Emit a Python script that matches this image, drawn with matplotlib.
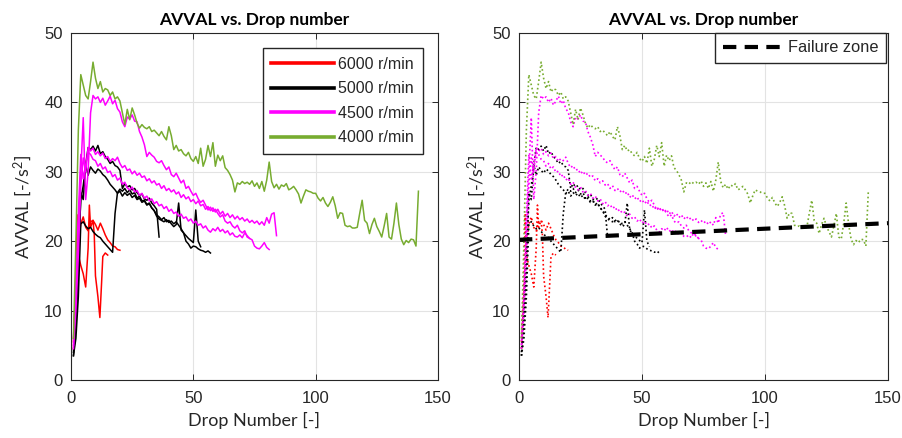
import matplotlib
matplotlib.use("Agg")
import matplotlib.pyplot as plt
from matplotlib.lines import Line2D

# ---------------- data ----------------
# 6000 r/min (red) – two runs
red1_x = [1, 2, 2.5, 3, 4, 5, 6, 7, 7.5, 8, 9, 9.5, 10, 11, 11.8, 12.5, 13, 14, 15]
red1_y = [5.5, 14, 23.8, 18, 16.5, 15.3, 13.4, 19, 25.2, 22, 23, 21, 15, 12, 9, 14, 17.8, 18.3, 18]
red2_x = [1, 2, 3, 4, 5, 6, 7, 8, 9, 10, 11, 12, 13, 14, 15, 16, 17, 18, 19, 20]
red2_y = [4.5, 12, 20, 22.5, 23.5, 22, 21.5, 22.8, 23, 22.4, 21.6, 22.6, 21.8, 20.9, 20.2,
          19.8, 19.3, 19.2, 18.8, 18.7]

# 5000 r/min (black) – three runs
blk1_x = list(range(1, 37))
blk1_y = [3.5, 8, 15, 27, 26, 31, 33.5, 33.2, 33.7, 33, 33.8, 32.6, 32.9, 32.2, 31.8, 31.2,
          31.5, 30.9, 30.7, 30.2, 27.6, 28.3, 27.8, 28, 27.4, 27.6, 27, 26.6, 26.8, 26.1,
          25.9, 26.2, 25.5, 25.1, 24.6, 20.6]
blk2_x = list(range(1, 54))
blk2_y = [4, 10, 18, 26, 28, 31, 29.5, 30.7, 30.2, 29.8, 30.4, 30.1, 29.6, 29.3, 28.8, 28.2,
          27.8, 27.4, 26.9, 27.2, 26.5, 27, 26.6, 26.9, 26.3, 26.6, 26, 26.2, 25.6, 25.8,
          25.2, 25.4, 24.8, 24.4, 23.8, 23.5, 23.1, 23.4, 22.8, 23, 22.5, 22.1, 22.4, 25.5,
          21.6, 21.2, 20.8, 20.4, 20.1, 19.8, 24.5, 20, 19.2]
blk3_x = list(range(1, 58))
blk3_y = [3.5, 6, 12, 22.5, 22.8, 22.2, 21.8, 22, 21.4, 21, 20.7, 20.5, 20, 19.6, 19.2, 18.8,
          18.4, 24, 27, 27.5, 27.2, 27.6, 27, 27.4, 26.8, 27, 26.2, 26.5, 25.8, 25.9, 25.3,
          25.5, 24.8, 24.4, 23.6, 23.2, 23, 22.8, 23.1, 22.7, 22.9, 22.5, 22.8, 22.3, 21.8,
          21.2, 20, 19.6, 19, 19.3, 19.2, 18.9, 18.7, 18.6, 18.4, 18.6, 18.3]

# 4500 r/min (magenta) – three runs
mag1_x = list(range(1, 82))
mag1_y = [5, 12, 22, 30, 37.8, 26, 30, 38.5, 41, 40.5, 40.8, 40, 40.6, 39.6, 40.2, 40.9,
          39.8, 40.3, 39.1, 38.6, 37.2, 36.5, 37.9, 37.6, 38.2, 37.3, 37.2, 35.8, 35, 33.9,
          32.2, 32.8, 32.4, 32.1, 31.5, 31.3, 31.6, 30.9, 30.3, 30.7, 29.6, 29.3, 29.8, 29.1,
          28.4, 28.8, 27.6, 27.9, 27.2, 26.6, 26.9, 26.1, 25.6, 25.9, 25.2, 24.5, 24.9, 24.3,
          24.6, 24, 23.5, 23.8, 22.9, 22.6, 22.8, 22.2, 21.9, 22.3, 21.5, 21.2, 21.5, 20.6,
          20.4, 20.2, 19.3, 19, 18.9, 19.3, 19.8, 19.1, 18.8]
mag2_x = list(range(1, 85))
mag2_y = [4.5, 10, 18, 28, 32, 30, 33.5, 33, 33.4, 32.5, 32.9, 32.3, 32.7, 31.9, 32.2, 31.5,
          31.9, 31.6, 32.1, 31.2, 30.6, 30.9, 30.2, 30.4, 29.7, 30.1, 29.5, 29.8, 29.2, 29.4,
          28.7, 29, 28.4, 28.7, 28.1, 28.3, 27.6, 28, 27.3, 27.6, 27.1, 27.4, 26.8, 27.1,
          26.3, 26.7, 26.1, 26.4, 25.7, 26, 25.4, 25.8, 25.1, 25.3, 24.6, 25, 24.4, 24.8,
          24.2, 24.6, 23.9, 24.3, 23.6, 24, 23.4, 23.8, 23.2, 23.6, 23.1, 23.4, 22.9, 23.2,
          22.7, 23, 22.6, 22.9, 22.4, 22.8, 22.3, 23.4, 22.6, 23.9, 24.1, 20.8]
mag3_x = list(range(1, 74))
mag3_y = [6, 14, 24, 32.5, 29, 31, 32.8, 32.5, 31.8, 31.6, 30.8, 31.2, 30.4, 30.7, 29.9, 30.1,
          29.3, 29.6, 28.8, 29.1, 28.2, 28.5, 27.7, 27.4, 27.8, 27.1, 27.3, 26.6, 26.9, 26.2,
          26.5, 25.8, 26.1, 25.4, 25.7, 25.1, 25.3, 24.7, 25, 24.3, 24.6, 24, 24.2, 23.6,
          23.9, 23.3, 23.5, 22.9, 23.2, 22.6, 22.9, 22.3, 22.5, 21.9, 22.2, 21.6, 21.3, 21.8,
          21.5, 22, 21.4, 21.7, 21.2, 21.5, 20.9, 21.2, 20.7, 20.6, 20.9, 20.5, 21.2, 20.8, 20.4]

# 4000 r/min (green) – one run
grn_x = list(range(1, 143))
grn_y = [6, 20, 36, 44, 42.5, 41, 40.5, 43, 45.8, 43.5, 42, 43, 41.5, 42, 41.8, 41, 41.5,
         40.5, 40.8, 40.2, 38.5, 36.8, 39, 37.5, 39.2, 38.2, 37, 36.3, 36.8, 36.4, 36.2,
         36.5, 35.8, 36, 35.6, 35.2, 35.8, 35.1, 34.6, 36.5, 35.2, 33.2, 33.8, 33, 33.2,
         32.6, 32.3, 32.8, 31.9, 31.5, 32.2, 31.2, 33.4, 30.8, 31.8, 33.8, 32.2, 34.2, 30.8,
         32.4, 31.6, 32.3, 30.6, 30.2, 29.6, 28.8, 27.1, 28.4, 28.2, 28.6, 28.3, 28.5, 28.2,
         28.7, 27.9, 28.4, 27.6, 28.6, 27.2, 28.8, 31.4, 28.6, 27.7, 28.2, 27.5, 28.1, 27.9,
         28.3, 27.4, 27.6, 27.9, 27.4, 26.8, 25.5, 26.5, 27.4, 27.2, 27.1, 26.9, 26.9, 26.2,
         25.8, 26.3,
         25.5, 25, 25.6, 26.4, 25.1, 23.3, 24.1, 24, 22.3, 22.1, 22.2, 21.9, 21.9, 22, 24,
         25.9, 23, 22.6, 21.1, 22.4, 23.3, 22.1, 21.4, 20.6, 22.2, 24, 20.6, 20.3, 22.6, 25.5,
         22.4, 20.3, 19.5, 20.1, 19.8, 20.3, 20.2, 19.3, 27.2]

failure_x = [0, 150]
failure_y = [20.2, 22.6]

series = [
    (red1_x, red1_y, "red"), (red2_x, red2_y, "red"),
    (blk1_x, blk1_y, "black"), (blk2_x, blk2_y, "black"), (blk3_x, blk3_y, "black"),
    (mag1_x, mag1_y, "magenta"), (mag2_x, mag2_y, "magenta"), (mag3_x, mag3_y, "magenta"),
    (grn_x, grn_y, "#77AC30"),
]
legend_labels = ["6000 r/min", "5000 r/min", "4500 r/min", "4000 r/min"]
legend_colors = ["red", "black", "magenta", "#77AC30"]

xticks = [0, 50, 100, 150]
yticks = [0, 10, 20, 30, 40, 50]

# ---------------- figure ----------------
TXT = "#262626"
fig = plt.figure(figsize=(9.02, 4.38), dpi=100)
W, H = 902.0, 438.0
ax1 = fig.add_axes([71 / W, 58 / H, 367 / W, 347 / H])
ax2 = fig.add_axes([519 / W, 58 / H, 369 / W, 347 / H])

label_font = dict(family="Lato", size=13, color=TXT)

for ax in (ax1, ax2):
    ax.set_xlim(0, 150)
    ax.set_ylim(0, 50)
    ax.set_xticks(xticks)
    ax.set_yticks(yticks)
    ax.grid(True, color="#e3e3e3", linewidth=0.8, zorder=0)
    ax.set_axisbelow(True)
    ax.tick_params(direction="in", top=True, right=True, length=4, width=0.7,
                   colors=TXT, labelsize=12)
    ax.tick_params(axis="x", pad=8)
    ax.tick_params(axis="y", pad=6)
    for lab in ax.get_xticklabels() + ax.get_yticklabels():
        lab.set_family("Liberation Sans")
    for sp in ax.spines.values():
        sp.set_color(TXT)
        sp.set_linewidth(0.8)
    ax.set_title("AVVAL vs. Drop number", fontfamily="Lato",
                 fontweight="bold", fontsize=12.5, color="black", pad=6)
    ax.set_xlabel("Drop Number [-]", labelpad=4, **label_font)
ax1.set_ylabel("AVVAL [-/s$\\mathregular{^2}$]", labelpad=7, **label_font)
ax2.set_ylabel("AVVAL [-/s$\\mathregular{^2}$]", labelpad=3, **label_font)

# left: solid lines
for x, y, c in series:
    ax1.plot(x, y, color=c, linewidth=1.1, solid_joinstyle="round")
handles = [Line2D([0], [0], color=c, linewidth=2.6) for c in legend_colors]
leg1 = ax1.legend(handles, legend_labels, loc="upper right",
                  bbox_to_anchor=(0.959, 0.957), borderaxespad=0.0,
                  fancybox=False, framealpha=1,
                  edgecolor=TXT, handlelength=3.9, handletextpad=0.3,
                  labelspacing=0.6, borderpad=0.55,
                  prop=dict(family="Liberation Sans", size=11.5))
leg1.get_frame().set_linewidth(1.0)
for t in leg1.get_texts():
    t.set_color(TXT)

# right: dotted lines + failure zone
for x, y, c in series:
    ax2.plot(x, y, color=c, linewidth=1.2, linestyle=(0, (1, 1.6)))
fz, = ax2.plot(failure_x, failure_y, color="black", linewidth=3,
               linestyle=(0, (3.2, 2.0)), label="Failure zone")
leg2 = ax2.legend([fz], ["Failure zone"], loc="upper right", bbox_to_anchor=(0.995, 1.0),
                  fancybox=False, framealpha=1, edgecolor=TXT, handlelength=3.6,
                  handletextpad=0.4, borderpad=0.45, borderaxespad=0.0,
                  prop=dict(family="Liberation Sans", size=11.8))
leg2.get_frame().set_linewidth(1.0)
for t in leg2.get_texts():
    t.set_color(TXT)

fig.savefig("out.png", dpi=100)
